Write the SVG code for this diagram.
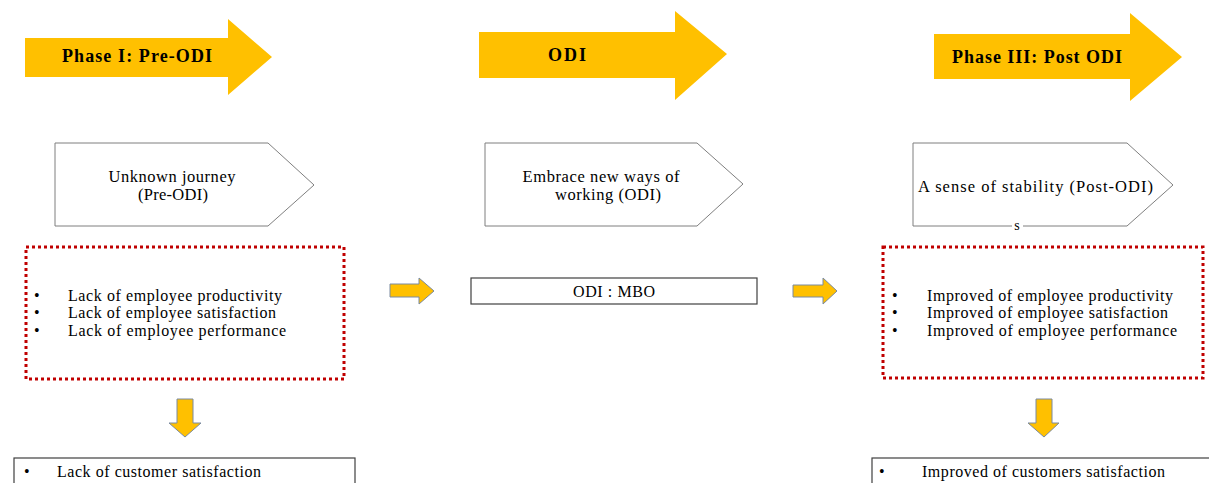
<svg xmlns="http://www.w3.org/2000/svg" width="1209" height="483" viewBox="0 0 1209 483">
<style>
.big{fill:#FFC000;stroke:none}
.small{fill:#FFC000;stroke:#7A8AA0;stroke-width:1}
.pent{fill:#fff;stroke:#7F7F7F;stroke-width:1}
.box{fill:#fff;stroke:#404040;stroke-width:1.2}
.dot{fill:#fff;stroke:#C00000;stroke-width:3;stroke-dasharray:3 3}
text{font-family:"Liberation Serif","Times New Roman",serif;fill:#000}
.h{font-size:18px;font-weight:bold;text-anchor:middle}
.p{font-size:16.5px;text-anchor:middle}
.t{font-size:16px}
.c{font-size:16px;text-anchor:middle}
</style>
<rect width="1209" height="483" fill="#fff"/>
<g id="phase1">
<polygon class="big" points="25,38 228,38 228,19 272,57 228,95 228,77 25,77"/>
<text class="h" x="137" y="62" textLength="150" lengthAdjust="spacing">Phase I: Pre-ODI</text>
</g>
<g id="phase2">
<polygon class="big" points="479,32 675,32 675,11 727,54 675,100 675,78 479,78"/>
<text class="h" x="567" y="61" textLength="38" lengthAdjust="spacing">ODI</text>
</g>
<g id="phase3">
<polygon class="big" points="934,34 1130,34 1130,13 1182,57 1130,101 1130,79 934,79"/>
<text class="h" x="1037" y="63" textLength="170" lengthAdjust="spacing">Phase III: Post ODI</text>
</g>
<g id="pent1">
<polygon class="pent" points="55,143 268,143 314,185 268,226 55,226"/>
<text class="p" x="172" y="182" textLength="127" lengthAdjust="spacing">Unknown journey</text>
<text class="p" x="173" y="200" textLength="70" lengthAdjust="spacing">(Pre-ODI)</text>
</g>
<g id="pent2">
<polygon class="pent" points="485,143 697,143 743,184 697,226 485,226"/>
<text class="p" x="601" y="182" textLength="157" lengthAdjust="spacing">Embrace new ways of</text>
<text class="p" x="608" y="200" textLength="106" lengthAdjust="spacing">working (ODI)</text>
</g>
<g id="pent3">
<polygon class="pent" points="913,143 1127,143 1173,185 1127,226 913,226"/>
<text class="p" x="1035.5" y="192" textLength="235" lengthAdjust="spacing">A sense of stability (Post-ODI)</text>
<rect x="1012" y="223" width="11" height="6" fill="#fff"/>
<text class="c" x="1017" y="230" style="font-size:14px">s</text>
</g>
<g id="pre-list">
<rect class="dot" x="26" y="247" width="318" height="132"/>
<text class="t" x="34" y="301">•</text>
<text class="t" x="68" y="301" textLength="214" lengthAdjust="spacing">Lack of employee productivity</text>
<text class="t" x="34" y="318">•</text>
<text class="t" x="68" y="318" textLength="208" lengthAdjust="spacing">Lack of employee satisfaction</text>
<text class="t" x="34" y="336">•</text>
<text class="t" x="68" y="336" textLength="218" lengthAdjust="spacing">Lack of employee performance</text>
</g>
<g id="odi-mbo">
<rect class="box" x="471" y="278" width="286" height="26"/>
<text class="c" x="614" y="297" textLength="82" lengthAdjust="spacing">ODI : MBO</text>
</g>
<g id="post-list">
<rect class="dot" x="883" y="247" width="320" height="131"/>
<text class="t" x="892" y="301">•</text>
<text class="t" x="927" y="301" textLength="246" lengthAdjust="spacing">Improved of employee productivity</text>
<text class="t" x="892" y="318">•</text>
<text class="t" x="927" y="318" textLength="241" lengthAdjust="spacing">Improved of employee satisfaction</text>
<text class="t" x="892" y="336">•</text>
<text class="t" x="927" y="336" textLength="250" lengthAdjust="spacing">Improved of employee performance</text>
</g>
<g id="pre-customer">
<rect class="box" x="14" y="458" width="341" height="40"/>
<text class="t" x="24" y="477">•</text>
<text class="t" x="57" y="477" textLength="204" lengthAdjust="spacing">Lack of customer satisfaction</text>
</g>
<g id="post-customer">
<rect class="box" x="872" y="458" width="345" height="40"/>
<text class="t" x="879" y="477">•</text>
<text class="t" x="922" y="477" textLength="243" lengthAdjust="spacing">Improved of customers satisfaction</text>
</g>
<g id="connectors">
<polygon class="small" points="390,284 419,284 419,278 434,291 419,304 419,297 390,297"/>
<polygon class="small" points="793,285 823,285 823,278 837,291 823,304 823,297 793,297"/>
<polygon class="small" points="177,399 193,399 193,423 201,423 185,437 169,423 177,423"/>
<polygon class="small" points="1036,399 1052,399 1052,423 1059,423 1044,437 1028,423 1036,423"/>
</g>
</svg>
